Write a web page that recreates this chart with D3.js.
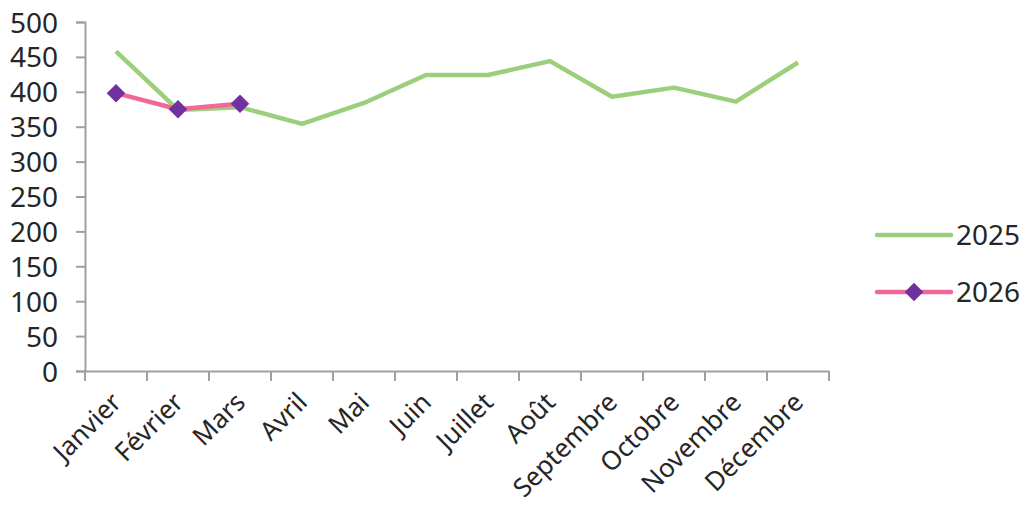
<!DOCTYPE html>
<html><head><meta charset="utf-8">
<script src="https://cdn.jsdelivr.net/npm/d3@7/dist/d3.min.js"></script>
<style>
body{margin:0;background:#fff;}
svg{display:block;font-family:"Noto Sans","Open Sans",sans-serif;}
</style></head>
<body><svg id="c" width="1027" height="514"></svg>
<script>
const months = ["Janvier","Février","Mars","Avril","Mai","Juin","Juillet","Août","Septembre","Octobre","Novembre","Décembre"];
const values2025 = [458, 374, 378, 354, 384, 424, 424, 444, 393, 406, 386, 442];
const values2026 = [398, 375, 383];
const yTicks = [0,50,100,150,200,250,300,350,400,450,500];
const seriesNames = ["2025","2026"];

const svg = d3.select("#c");
const L = 85, R = 829, T = 22, B = 371;
const x = d3.scaleBand().domain(months).range([L, R]);
const y = d3.scaleLinear().domain([0, 500]).range([B, T]);
const cx = m => x(m) + x.bandwidth()/2;
const axisColor = "#a0a0a0";

// y axis
const ya = svg.append("g").attr("transform", `translate(${L},0)`)
  .call(d3.axisLeft(y).tickValues(yTicks).tickSize(9).tickPadding(18));
ya.select(".domain").attr("stroke", axisColor).attr("stroke-width", 2);
ya.selectAll(".tick line").attr("stroke", axisColor).attr("stroke-width", 2);
ya.selectAll(".tick text").attr("font-size", 28).attr("fill", "#262626")
  .attr("font-family", "Noto Sans, sans-serif").attr("dy", "0.36em");

// x axis
const xa = svg.append("g").attr("transform", `translate(0,${B})`)
  .call(d3.axisBottom(x).tickSize(0).tickFormat(""));
xa.select(".domain").attr("stroke", axisColor).attr("stroke-width", 2);
const bounds = months.map(m => x(m)).concat([R]);
svg.append("g").selectAll("line").data(bounds).join("line")
  .attr("x1", d => d).attr("x2", d => d).attr("y1", B).attr("y2", B + 10)
  .attr("stroke", axisColor).attr("stroke-width", 2);
svg.append("g").selectAll("text").data(months).join("text")
  .attr("transform", m => `translate(${cx(m) - 6},${B + 20}) rotate(-45)`)
  .attr("text-anchor", "end").attr("dy", "0.7em")
  .attr("font-size", 26).attr("fill", "#262626").text(m => m);

// lines
const line = d3.line().x((d, i) => cx(months[i])).y(d => y(d));
svg.append("path").datum(values2025).attr("d", line)
  .attr("fill", "none").attr("stroke", "#9bcf7c").attr("stroke-width", 4.5).attr("stroke-linejoin", "round");
svg.append("path").datum(values2026).attr("d", line)
  .attr("fill", "none").attr("stroke", "#f2679a").attr("stroke-width", 4.5).attr("stroke-linejoin", "round");
const diamond = d3.symbol().type(d3.symbolDiamond2).size(220);
svg.append("g").selectAll("path").data(values2026).join("path")
  .attr("d", diamond)
  .attr("transform", (d, i) => `translate(${cx(months[i])},${y(d)})`)
  .attr("fill", "#7030a0");

// legend
const lg = svg.append("g");
lg.append("line").attr("x1", 877).attr("x2", 951).attr("y1", 235).attr("y2", 235)
  .attr("stroke", "#9bcf7c").attr("stroke-width", 4.5).attr("stroke-linecap", "round");
lg.append("text").attr("x", 956).attr("y", 235).attr("dy", "0.36em").attr("font-size", 28)
  .attr("fill", "#262626").text(seriesNames[0]);
lg.append("line").attr("x1", 877).attr("x2", 951).attr("y1", 292).attr("y2", 292)
  .attr("stroke", "#f2679a").attr("stroke-width", 4.5).attr("stroke-linecap", "round");
lg.append("path").attr("d", diamond).attr("transform", "translate(914,292)").attr("fill", "#7030a0");
lg.append("text").attr("x", 956).attr("y", 292).attr("dy", "0.36em").attr("font-size", 28)
  .attr("fill", "#262626").text(seriesNames[1]);
</script></body></html>
